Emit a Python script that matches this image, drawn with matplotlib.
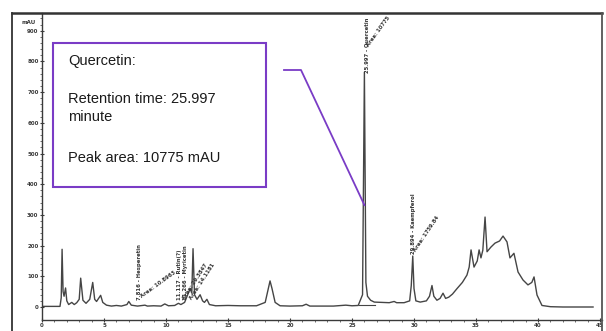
import matplotlib
matplotlib.use("Agg")
import matplotlib.pyplot as plt
from matplotlib.lines import Line2D
from matplotlib.patches import Rectangle
import numpy as np

# ---- data ----
time_min = [0.0, 1.45, 1.55, 1.62, 1.70, 1.78, 1.90, 2.00, 2.15, 2.40, 2.60, 2.80, 3.00, 3.12, 3.30,
            3.55, 3.85, 4.09, 4.25, 4.40, 4.73, 4.90, 5.20, 5.60, 6.00, 6.40, 6.85, 7.00, 7.20,
            7.70, 8.30, 8.50, 9.00, 9.60, 9.90, 10.20, 10.70, 11.00, 11.20, 11.50, 11.75, 11.95,
            12.08, 12.18, 12.30, 12.50, 12.75, 12.95, 13.10, 13.30, 13.50, 14.00, 15.00, 16.00,
            17.30, 17.80, 18.00, 18.25, 18.39, 18.55, 18.80, 19.20, 20.00, 21.00, 21.30, 21.60,
            22.50, 23.50, 24.50, 25.00, 25.50, 25.85, 26.00, 26.12, 26.25, 26.50, 26.80, 27.50,
            28.00, 28.40, 28.60, 29.20, 29.65, 29.78, 29.90, 30.00, 30.15, 30.50, 31.00, 31.25,
            31.45, 31.60, 31.85, 32.10, 32.34, 32.55, 32.80, 33.10, 33.47, 33.90, 34.27, 34.45,
            34.60, 34.84, 35.10, 35.25, 35.40, 35.55, 35.73, 35.89, 36.20, 36.53, 36.90, 37.18,
            37.50, 37.74, 38.06, 38.39, 38.79, 39.19, 39.50, 39.68, 39.92, 40.32, 41.00, 42.00,
            43.00, 44.44]
signal_mau = [2, 2, 30, 188, 50, 35, 62, 20, 8, 15, 8, 14, 25, 94, 22,
              12, 25, 80, 25, 18, 38, 15, 6, 3, 5, 3, 8, 18, 6,
              3, 6, 3, 4, 3, 10, 4, 5, 12, 8, 15, 40, 60,
              45, 190, 40, 25, 40, 20, 15, 25, 8, 4, 5, 4,
              4, 12, 15, 60, 85, 60, 15, 4, 3, 4, 9, 3,
              3, 3, 6, 4, 5, 40, 765, 80, 35, 22, 16, 15,
              14, 18, 14, 14, 20, 70, 166, 60, 20, 16, 20, 35,
              70, 35, 22, 28, 45, 28, 32, 42, 60, 80, 104, 130,
              186, 130, 150, 186, 160, 185, 293, 180, 195, 208, 215, 231,
              212, 160, 175, 114, 88, 72, 80, 98, 39, 5, 1, 0,
              0, 0]

x_ticks = [0, 5, 10, 15, 20, 25, 30, 35, 40, 45]
x_tick_labels = ["0", "5", "10", "15", "20", "25", "30", "35", "40", "45"]
y_ticks = [0, 100, 200, 300, 400, 500, 600, 700, 800, 900]
y_tick_labels = ["0", "100", "200", "300", "400", "500", "600", "700", "800", "900"]

# peak annotations
peak_label_time = [26.2, 30.0, 7.9, 11.05, 11.55]
peak_label_value = [762, 172, 22, 22, 22]
peak_label_text = ["25.997 - Quercetin", "29.894 - Kaempferol", "7.816 - Hesperetin",
                   "11.117 - Rutin(?)", "11.266 - Myricetin"]
area_label_time = [26.45, 30.25, 8.15, 11.6, 12.2]
area_label_value = [845, 178, 28, 22, 22]
area_label_text = ["Area: 10775", "Area: 1759.84", "Area: 10.8963", "Area: 29.3847", "Area: 14.1181"]
area_label_rot = [54, 56, 36, 57, 57]

quercetin_time = 26.0
callout_value = 332

W, H = 606, 331
fig = plt.figure(figsize=(W / 100, H / 100), dpi=100)
fig.patch.set_facecolor("white")

def fx(x):
    return x / W

def fy(y):
    return 1 - y / H

ax = fig.add_axes([fx(42), fy(320), (602 - 42) / W, (320 - 13) / H])
ax.set_xlim(0, (602 - 42) / 12.4)
ax.set_ylim(-(320 - 307) / 0.307, (307 - 13) / 0.307)

ax.plot(time_min, signal_mau, color="#454545", lw=1.0)
# integration baseline under quercetin
ax.plot([25.6, 26.85], [6, 6], color="#454545", lw=0.8)

for sp in ["top", "right"]:
    ax.spines[sp].set_visible(False)
for sp in ["left", "bottom"]:
    ax.spines[sp].set_color("#3a3a3a")
    ax.spines[sp].set_linewidth(1.0)

ax.set_xticks(x_ticks)
ax.set_xticklabels(x_tick_labels)
ax.set_xticks(np.arange(0, 46, 1), minor=True)
ax.set_yticks(y_ticks)
ax.set_yticklabels(y_tick_labels)
ax.set_yticks(np.arange(0, 951, 20), minor=True)
ax.tick_params(axis="both", which="major", direction="inout", length=3, width=0.8,
               colors="#3a3a3a", labelsize=4, pad=1)
ax.tick_params(axis="both", which="minor", direction="out", length=1.5, width=0.6, colors="#555555")
for lab in ax.get_xticklabels() + ax.get_yticklabels():
    lab.set_fontweight("bold")
ax.text(-0.012, (307 - 22) / 0.307, "mAU", transform=ax.get_yaxis_transform(),
        ha="right", va="center", fontsize=4, fontweight="bold", color="#3a3a3a")

for t, v, s in zip(peak_label_time, peak_label_value, peak_label_text):
    ax.text(t, v, s, rotation=90, ha="center", va="bottom", fontsize=3.8,
            fontweight="bold", color="#333333")
for t, v, s, r in zip(area_label_time, area_label_value, area_label_text, area_label_rot):
    ax.text(t, v, s, rotation=r, ha="left", va="bottom", fontsize=3.8, fontweight="bold",
            color="#333333", rotation_mode="anchor")

# outer frame
frame_kw = dict(color="#333333", transform=fig.transFigure)
fig.add_artist(Line2D([fx(12), fx(602)], [fy(13), fy(13)], lw=1.8, **frame_kw))
fig.add_artist(Line2D([fx(12), fx(12)], [fy(13), 0], lw=1.3, **frame_kw))
fig.add_artist(Line2D([fx(602), fx(602)], [fy(13), 0], lw=1.3, color="#555555",
                      transform=fig.transFigure))

# callout box
purple = "#7a3cc6"
fig.add_artist(Rectangle((fx(53), fy(187)), (266 - 53) / W, (187 - 43) / H,
                         transform=fig.transFigure, fill=True, facecolor="white",
                         edgecolor=purple, lw=1.5))
txt_kw = dict(transform=fig.transFigure, fontsize=10.5, family="Liberation Sans",
              color="#1a1a1a", ha="left", va="center")
fig.text(fx(68), fy(61), "Quercetin:", **txt_kw)
fig.text(fx(68), fy(99), "Retention time: 25.997", **txt_kw)
fig.text(fx(68), fy(117), "minute", **txt_kw)
fig.text(fx(68), fy(158), "Peak area: 10775 mAU", **txt_kw)

# callout line to the quercetin peak
fig.canvas.draw()
px, py = ax.transData.transform((quercetin_time, callout_value))
ex, ey = fig.transFigure.inverted().transform((px, py))
fig.add_artist(Line2D([fx(284), fx(301), ex], [fy(70), fy(70), ey], color=purple, lw=1.3,
                      transform=fig.transFigure))

fig.savefig("out.png", dpi=100)
